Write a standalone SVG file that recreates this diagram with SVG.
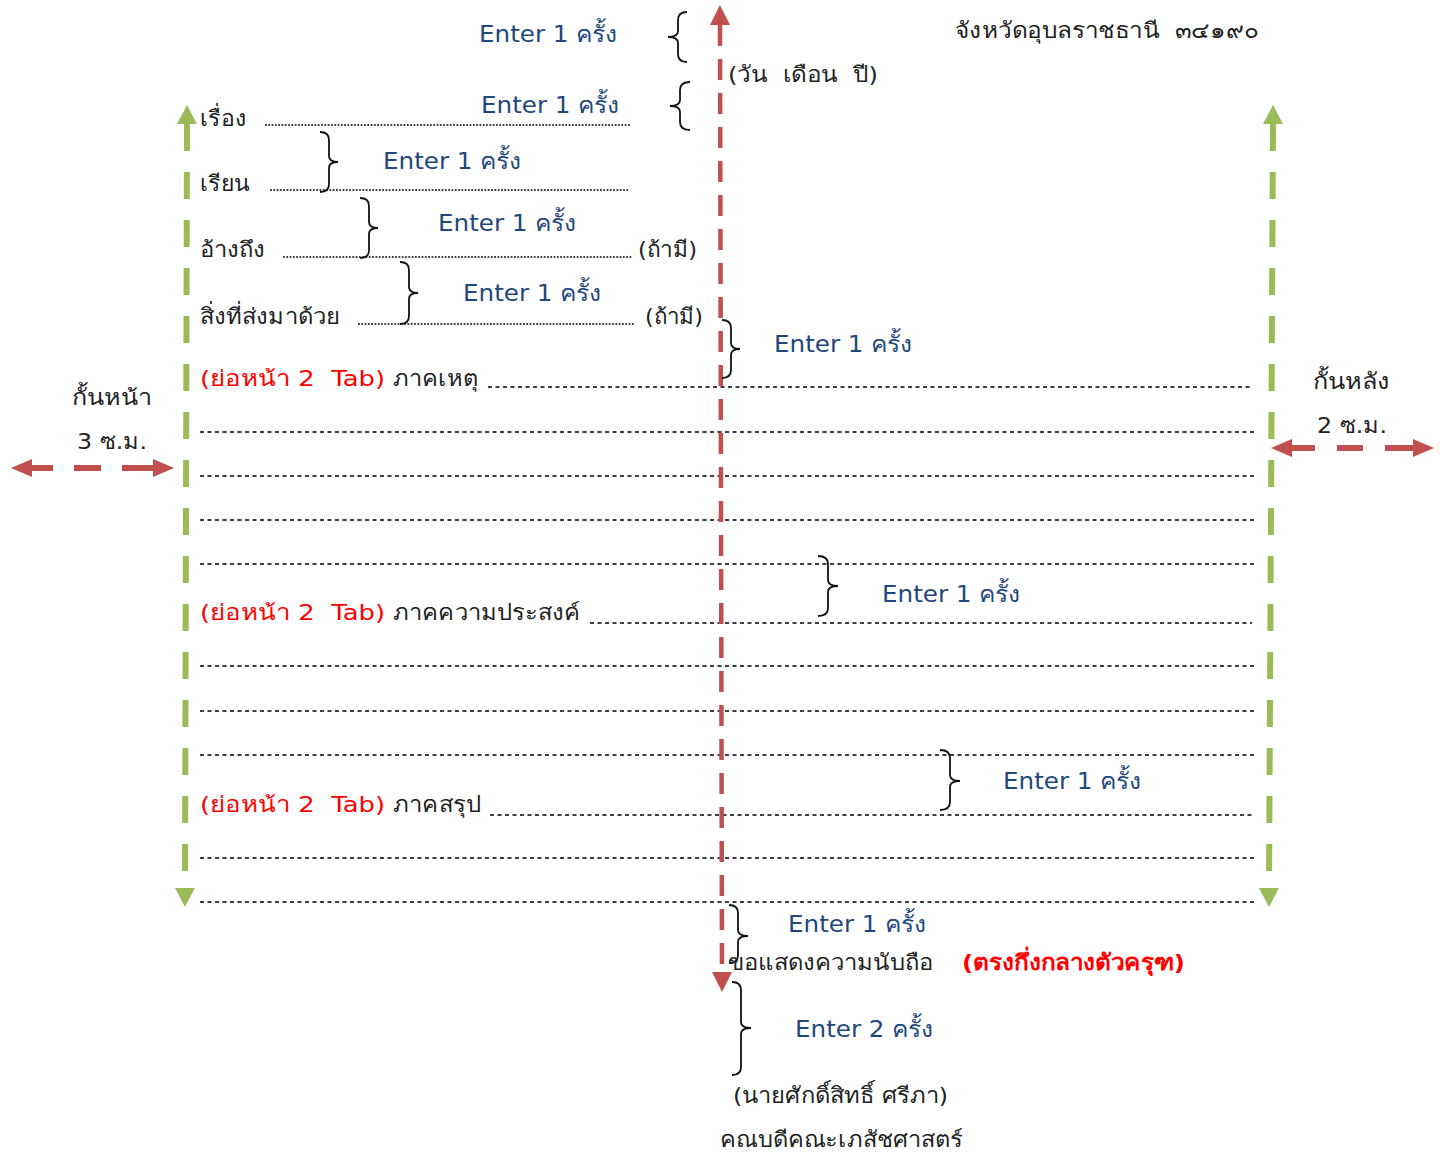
<svg xmlns="http://www.w3.org/2000/svg" width="1443" height="1153" viewBox="0 0 1443 1153">
<defs>
<style>
text{white-space:pre}
.bg{fill:#ffffff}
.t{font-family:"DejaVu Sans","Noto Sans",sans-serif;font-size:22px;fill:#222222}
.e{font-family:"DejaVu Sans","Noto Sans",sans-serif;font-size:23px;fill:#1F497D}
.r{font-family:"DejaVu Sans","Noto Sans",sans-serif;font-size:22px;fill:#FF0000}
.rb{font-family:"DejaVu Sans","Noto Sans",sans-serif;font-size:22px;fill:#FF0000;font-weight:bold}
.dot{stroke:#000;stroke-width:1.5;stroke-dasharray:1.8 1.5;fill:none}
.dash{stroke:#000;stroke-width:1.5;stroke-dasharray:4 3.5;fill:none}
.br{stroke:#111;stroke-width:1.8;fill:none}
.green{stroke:#9BBB59;stroke-width:6;stroke-dasharray:27 21;fill:none}
.redv{stroke:#C0504D;stroke-width:4.5;stroke-dasharray:21 13;fill:none}
.redh{stroke:#C0504D;stroke-width:6;fill:none}
</style>
<marker id="ga" markerUnits="userSpaceOnUse" markerWidth="22" markerHeight="22" viewBox="0 -11 20 22" refX="0" refY="0" orient="auto-start-reverse"><path d="M0,-10 L19,0 L0,10 z" fill="#9BBB59"/></marker>
<marker id="rva" markerUnits="userSpaceOnUse" markerWidth="22" markerHeight="22" viewBox="0 -11 20 22" refX="0" refY="0" orient="auto-start-reverse"><path d="M0,-10 L20,0 L0,10 z" fill="#C0504D"/></marker>
<marker id="rha" markerUnits="userSpaceOnUse" markerWidth="24" markerHeight="22" viewBox="0 -11 22 22" refX="0" refY="0" orient="auto-start-reverse"><path d="M0,-9 L21,0 L0,9 z" fill="#C0504D"/></marker>
</defs>
<rect class="bg" x="0" y="0" width="1443" height="1153"/>

<g id="connectors">
  <g id="ruled-lines">
    <line class="dot" x1="265" y1="125" x2="630" y2="125"/>
    <line class="dot" x1="270" y1="190" x2="628" y2="190"/>
    <line class="dot" x1="283" y1="257" x2="632" y2="257"/>
    <line class="dot" x1="358" y1="324" x2="635" y2="324"/>
    <line class="dash" x1="488" y1="387" x2="1252" y2="387"/>
    <line class="dash" x1="200" y1="432" x2="1256" y2="432"/>
    <line class="dash" x1="200" y1="476" x2="1256" y2="476"/>
    <line class="dash" x1="200" y1="520" x2="1256" y2="520"/>
    <line class="dash" x1="200" y1="564" x2="1256" y2="564"/>
    <line class="dash" x1="590" y1="623" x2="1252" y2="623"/>
    <line class="dash" x1="200" y1="666" x2="1256" y2="666"/>
    <line class="dash" x1="200" y1="711" x2="1256" y2="711"/>
    <line class="dash" x1="200" y1="755" x2="1256" y2="755"/>
    <line class="dash" x1="490" y1="815" x2="1254" y2="815"/>
    <line class="dash" x1="200" y1="858" x2="1256" y2="858"/>
    <line class="dash" x1="200" y1="902" x2="1256" y2="902"/>
  </g>
  <g id="margin-arrows">
    <line class="green" x1="187" y1="124" x2="185" y2="888" marker-start="url(#ga)" marker-end="url(#ga)"/>
    <line class="green" x1="1273" y1="124" x2="1269" y2="888" marker-start="url(#ga)" marker-end="url(#ga)"/>
    <line class="redv" x1="720" y1="25" x2="722" y2="972" marker-start="url(#rva)" marker-end="url(#rva)"/>
    <line class="redh" stroke-dasharray="21 21 27 21 31" x1="32" y1="468" x2="153" y2="468" marker-start="url(#rha)" marker-end="url(#rha)"/>
    <line class="redh" stroke-dasharray="23 22 26 22 28" x1="1292" y1="448" x2="1413" y2="448" marker-start="url(#rha)" marker-end="url(#rha)"/>
  </g>
  <g id="braces">
    <path class="br" d="M687,12 Q678,12 678,20 L678,31 Q678,37 668,37 Q678,37 678,43 L678,54 Q678,62 687,62"/>
    <path class="br" d="M690,82 Q680,82 680,90 L680,100 Q680,106 670,106 Q680,106 680,112 L680,122 Q680,130 690,130"/>
    <path class="br" d="M320,132 Q329,132 329,140 L329,156 Q329,162 338,162 Q329,162 329,168 L329,184 Q329,192 320,192"/>
    <path class="br" d="M360,198 Q369,198 369,206 L369,222 Q369,228 378,228 Q369,228 369,234 L369,250 Q369,258 360,258"/>
    <path class="br" d="M400,262 Q409,262 409,270 L409,287 Q409,293 418,293 Q409,293 409,299 L409,316 Q409,324 400,324"/>
    <path class="br" d="M722,320 Q731,320 731,328 L731,343 Q731,349 740,349 Q731,349 731,355 L731,370 Q731,378 722,378"/>
    <path class="br" d="M818,556 Q828,556 828,564 L828,580 Q828,586 838,586 Q828,586 828,592 L828,608 Q828,616 818,616"/>
    <path class="br" d="M940,750 Q950,750 950,758 L950,775 Q950,781 960,781 Q950,781 950,787 L950,802 Q950,810 940,810"/>
    <path class="br" d="M729,905 Q738,905 738,913 L738,930 Q738,936 748,936 Q738,936 738,942 L738,955 Q738,963 729,963"/>
    <path class="br" d="M732,982 Q741,982 741,990 L741,1022 Q741,1028 751,1028 Q741,1028 741,1034 L741,1067 Q741,1075 732,1075"/>
  </g>
</g>

<g id="header">
  <text id="addr" class="t" x="955" y="38" textLength="303" lengthAdjust="spacingAndGlyphs">จังหวัดอุบลราชธานี  ๓๔๑๙๐</text>
  <text id="date" class="t" x="728" y="82" textLength="150" lengthAdjust="spacingAndGlyphs">(วัน  เดือน  ปี)</text>
</g>

<g id="enter-labels">
  <text class="e" x="479" y="42" textLength="138" lengthAdjust="spacingAndGlyphs">Enter 1 ครั้ง</text>
  <text class="e" x="481" y="113" textLength="138" lengthAdjust="spacingAndGlyphs">Enter 1 ครั้ง</text>
  <text class="e" x="383" y="169" textLength="138" lengthAdjust="spacingAndGlyphs">Enter 1 ครั้ง</text>
  <text class="e" x="438" y="231" textLength="138" lengthAdjust="spacingAndGlyphs">Enter 1 ครั้ง</text>
  <text class="e" x="463" y="301" textLength="138" lengthAdjust="spacingAndGlyphs">Enter 1 ครั้ง</text>
  <text class="e" x="774" y="352" textLength="138" lengthAdjust="spacingAndGlyphs">Enter 1 ครั้ง</text>
  <text class="e" x="882" y="602" textLength="138" lengthAdjust="spacingAndGlyphs">Enter 1 ครั้ง</text>
  <text class="e" x="1003" y="789" textLength="138" lengthAdjust="spacingAndGlyphs">Enter 1 ครั้ง</text>
  <text class="e" x="788" y="932" textLength="138" lengthAdjust="spacingAndGlyphs">Enter 1 ครั้ง</text>
  <text class="e" x="795" y="1037" textLength="138" lengthAdjust="spacingAndGlyphs">Enter 2 ครั้ง</text>
</g>

<g id="subject">
  <text class="t" x="200" y="126" textLength="46" lengthAdjust="spacingAndGlyphs">เรื่อง</text>
</g>
<g id="to">
  <text class="t" x="200" y="191" textLength="50" lengthAdjust="spacingAndGlyphs">เรียน</text>
</g>
<g id="reference">
  <text class="t" x="200" y="257" textLength="65" lengthAdjust="spacingAndGlyphs">อ้างถึง</text>
  <text class="t" x="638" y="257" textLength="59" lengthAdjust="spacingAndGlyphs">(ถ้ามี)</text>
</g>
<g id="enclosure">
  <text class="t" x="200" y="324" textLength="140" lengthAdjust="spacingAndGlyphs">สิ่งที่ส่งมาด้วย</text>
  <text class="t" x="645" y="324" textLength="58" lengthAdjust="spacingAndGlyphs">(ถ้ามี)</text>
</g>
<g id="cause">
  <text class="r" x="200" y="386" textLength="185" lengthAdjust="spacingAndGlyphs">(ย่อหน้า 2  Tab)</text>
  <text class="t" x="393" y="386" textLength="85" lengthAdjust="spacingAndGlyphs">ภาคเหตุ</text>
</g>
<g id="purpose">
  <text class="r" x="200" y="620" textLength="185" lengthAdjust="spacingAndGlyphs">(ย่อหน้า 2  Tab)</text>
  <text class="t" x="393" y="620" textLength="187" lengthAdjust="spacingAndGlyphs">ภาคความประสงค์</text>
</g>
<g id="conclusion">
  <text class="r" x="200" y="812" textLength="185" lengthAdjust="spacingAndGlyphs">(ย่อหน้า 2  Tab)</text>
  <text class="t" x="393" y="812" textLength="88" lengthAdjust="spacingAndGlyphs">ภาคสรุป</text>
</g>
<g id="left-margin">
  <text class="t" x="72" y="405" textLength="80" lengthAdjust="spacingAndGlyphs">กั้นหน้า</text>
  <text class="t" x="77" y="449" textLength="70" lengthAdjust="spacingAndGlyphs">3 ซ.ม.</text>
</g>
<g id="right-margin">
  <text class="t" x="1313" y="389" textLength="77" lengthAdjust="spacingAndGlyphs">กั้นหลัง</text>
  <text class="t" x="1317" y="433" textLength="70" lengthAdjust="spacingAndGlyphs">2 ซ.ม.</text>
</g>
<g id="closing">
  <text class="t" x="728" y="970" textLength="205" lengthAdjust="spacingAndGlyphs">ขอแสดงความนับถือ</text>
  <text class="rb" x="962" y="970" textLength="223" lengthAdjust="spacingAndGlyphs">(ตรงกึ่งกลางตัวครุฑ)</text>
</g>
<g id="signature">
  <text class="t" x="733" y="1103" textLength="215" lengthAdjust="spacingAndGlyphs">(นายศักดิ์สิทธิ์ ศรีภา)</text>
  <text class="t" x="720" y="1147" textLength="243" lengthAdjust="spacingAndGlyphs">คณบดีคณะเภสัชศาสตร์</text>
</g>
</svg>
